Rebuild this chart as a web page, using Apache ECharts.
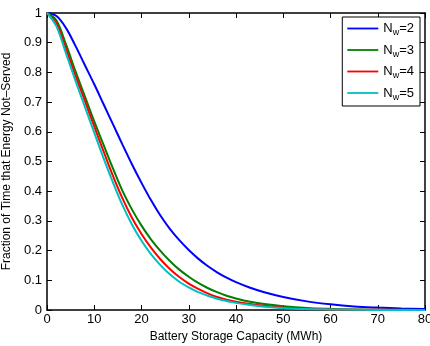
<!DOCTYPE html>
<html>
<head>
<meta charset="utf-8">
<script src="https://cdn.jsdelivr.net/npm/echarts@6/dist/echarts.min.js"></script>
<style>
  html, body { margin: 0; padding: 0; background: #fff; }
  #chart { width: 430px; height: 346px; }
</style>
</head>
<body>
<div id="chart"></div>
<script>
// battery capacity (MWh)
const capacity = [0, 2, 4, 6, 8, 10, 12, 14, 16, 18, 20, 22, 24, 26, 28, 30, 32, 34, 36, 38, 40, 43, 46, 50, 55, 60, 65, 70, 75, 80];

// fraction of time not served, one array per N_w
const nw2 = [1.0, 0.99, 0.95, 0.89, 0.825, 0.76, 0.692, 0.624, 0.556, 0.49, 0.428, 0.37, 0.318, 0.273, 0.235, 0.202, 0.173, 0.148, 0.127, 0.109, 0.094, 0.075, 0.06, 0.044, 0.029, 0.019, 0.012, 0.008, 0.005, 0.003];
const nw3 = [1.0, 0.975, 0.895, 0.805, 0.72, 0.635, 0.555, 0.475, 0.4, 0.338, 0.284, 0.238, 0.199, 0.165, 0.136, 0.112, 0.091, 0.074, 0.06, 0.048, 0.039, 0.028, 0.02, 0.013, 0.007, 0.004, 0.002, 0.001, 0.001, 0];
const nw4 = [1.0, 0.965, 0.88, 0.79, 0.705, 0.618, 0.533, 0.45, 0.375, 0.31, 0.256, 0.21, 0.171, 0.138, 0.111, 0.089, 0.071, 0.056, 0.044, 0.035, 0.028, 0.02, 0.014, 0.008, 0.004, 0.002, 0.001, 0.001, 0, 0];
const nw5 = [1.0, 0.955, 0.865, 0.773, 0.685, 0.597, 0.51, 0.428, 0.352, 0.287, 0.233, 0.188, 0.151, 0.12, 0.095, 0.076, 0.06, 0.048, 0.038, 0.03, 0.024, 0.017, 0.011, 0.006, 0.003, 0.002, 0.001, 0, 0, 0];

const seriesNames = ["Nw=2", "Nw=3", "Nw=4", "Nw=5"];
const seriesValues = [nw2, nw3, nw4, nw5];
const COLORS = ["#0000ff", "#008000", "#ff0000", "#00bfbf"];

const FONT = "'Liberation Sans', Arial, Helvetica, sans-serif";
// plain line for legend keys (extra move-tos keep the box 31x12)
const LINE_ICON = "path://M0,0 M0,5.1 L31,5.1 L31,6.9 L0,6.9 Z M31,12";

const chart = echarts.init(document.getElementById("chart"));

const series = seriesNames.map((name, i) => ({
  name,
  type: "line",
  xAxisIndex: 0,
  yAxisIndex: 0,
  symbol: "none",
  smooth: 0.35,
  lineStyle: { width: 2, color: COLORS[i] },
  itemStyle: { color: COLORS[i] },
  data: capacity.map((c, k) => [c, seriesValues[i][k]]),
}));

// matlab-style box: all four sides, ticks pointing in
function boxAxis(extra) {
  return Object.assign({
    type: "value",
    min: 0,
    axisLine: { show: true, onZero: false, lineStyle: { color: "#000", width: 1.5 } },
    axisTick: { show: true, inside: true, length: 5, lineStyle: { color: "#000", width: 1 } },
    splitLine: { show: false },
  }, extra);
}

chart.setOption({
  animation: false,
  grid: { left: 47, right: 5, top: 13, bottom: 36, containLabel: false, outerBoundsMode: "none" },
  color: COLORS,
  legend: {
    orient: "vertical",
    right: 10,
    top: 17,
    padding: [5, 6, 4, 5],
    icon: LINE_ICON,
    itemWidth: 31,
    itemHeight: 12,
    itemGap: 6,
    borderColor: "#000",
    borderWidth: 1,
    borderRadius: 0,
    backgroundColor: "#fff",
    formatter: (n) => "{n|N}{s|w}{n|" + n.slice(2) + "}",
    textStyle: {
      fontFamily: FONT,
      color: "#000",
      rich: {
        n: { fontSize: 13, fontFamily: FONT, color: "#000" },
        s: { fontSize: 9, fontFamily: FONT, color: "#000", padding: [9, 0, 0, 0] },
      },
    },
  },
  xAxis: [
    boxAxis({
      max: 80,
      interval: 10,
      position: "bottom",
      name: "Battery Storage Capacity (MWh)",
      nameLocation: "middle",
      nameGap: 19,
      nameTextStyle: { fontFamily: FONT, fontSize: 12, color: "#000" },
      axisLabel: { fontFamily: FONT, fontSize: 13, color: "#000", margin: 3 },
    }),
    boxAxis({ max: 80, interval: 10, position: "top", axisLabel: { show: false } }),
  ],
  yAxis: [
    boxAxis({
      max: 1,
      interval: 0.1,
      position: "left",
      name: "Fraction of Time that Energy Not\u2013Served",
      nameLocation: "middle",
      nameGap: 32,
      nameTextStyle: { fontFamily: FONT, fontSize: 12, color: "#000" },
      axisLabel: { fontFamily: FONT, fontSize: 13, color: "#000", margin: 5 },
    }),
    boxAxis({ max: 1, interval: 0.1, position: "right", axisLabel: { show: false } }),
  ],
  series,
});
</script>
</body>
</html>
